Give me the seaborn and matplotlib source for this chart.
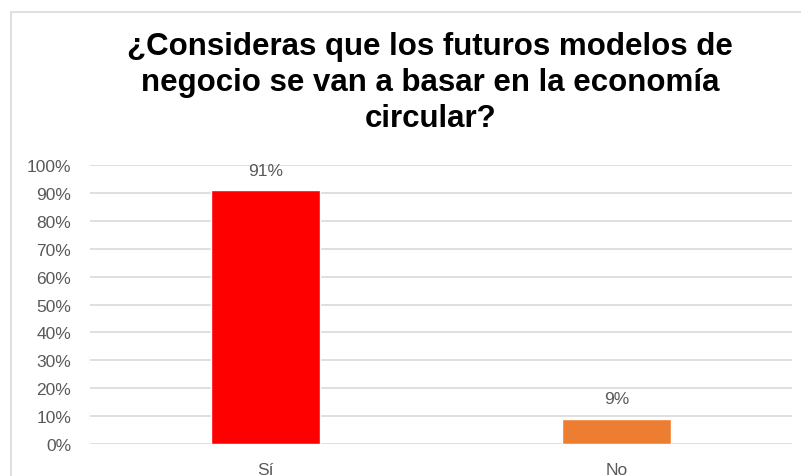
import matplotlib
matplotlib.use("Agg")
import matplotlib.pyplot as plt
import seaborn as sns
import pandas as pd
from matplotlib.patches import Rectangle
from matplotlib.ticker import PercentFormatter

# Chart data
categories = ["Sí", "No"]
values = [91, 9]
bar_colors = ["#FF0000", "#ED7D31"]
title = "¿Consideras que los futuros modelos de\nnegocio se van a basar en la economía\ncircular?"

sns.set_theme(style="white")
plt.rcParams["font.family"] = ["Liberation Sans", "DejaVu Sans"]

df = pd.DataFrame({"respuesta": categories, "valor": values})

fig = plt.figure(figsize=(8.01, 4.77), dpi=100)
ax = fig.add_axes([90 / 801, 1 - 445 / 477, 702 / 801, 279 / 477])

sns.barplot(data=df, x="respuesta", y="valor", hue="respuesta",
            palette=bar_colors, width=0.31, legend=False, ax=ax,
            saturation=1)

ax.set_ylim(0, 100)
ax.set_xlim(-0.5, 1.5)
ax.set_yticks(range(0, 101, 10))
ax.yaxis.set_major_formatter(PercentFormatter(decimals=0))
ax.grid(axis="y", color="#D9D9D9", linewidth=1.2)
ax.set_axisbelow(True)
for s in ax.spines.values():
    s.set_visible(False)
ax.tick_params(axis="y", colors="#595959", labelsize=12.5, length=0, pad=13.5)
ax.tick_params(axis="x", colors="#595959", labelsize=12.5, length=0, pad=13)
ax.set_xlabel("")
ax.set_ylabel("")

for i, v in enumerate(values):
    ax.text(i, v + 4.5, f"{v}%", ha="center", va="bottom",
            color="#595959", fontsize=12.5)

fig.text(0.537, 1 - 83 / 477, title, ha="center", va="center",
         fontsize=22.5, fontweight="bold", color="black", linespacing=1.24)

# chart-area border like the spreadsheet frame
fig.patches.append(Rectangle((11 / 801, -0.1), 1.2, 1 - 13 / 477 + 0.1,
                             transform=fig.transFigure, fill=False,
                             edgecolor="#D9D9D9", linewidth=1.2))

fig.savefig("out.png", dpi=100)
